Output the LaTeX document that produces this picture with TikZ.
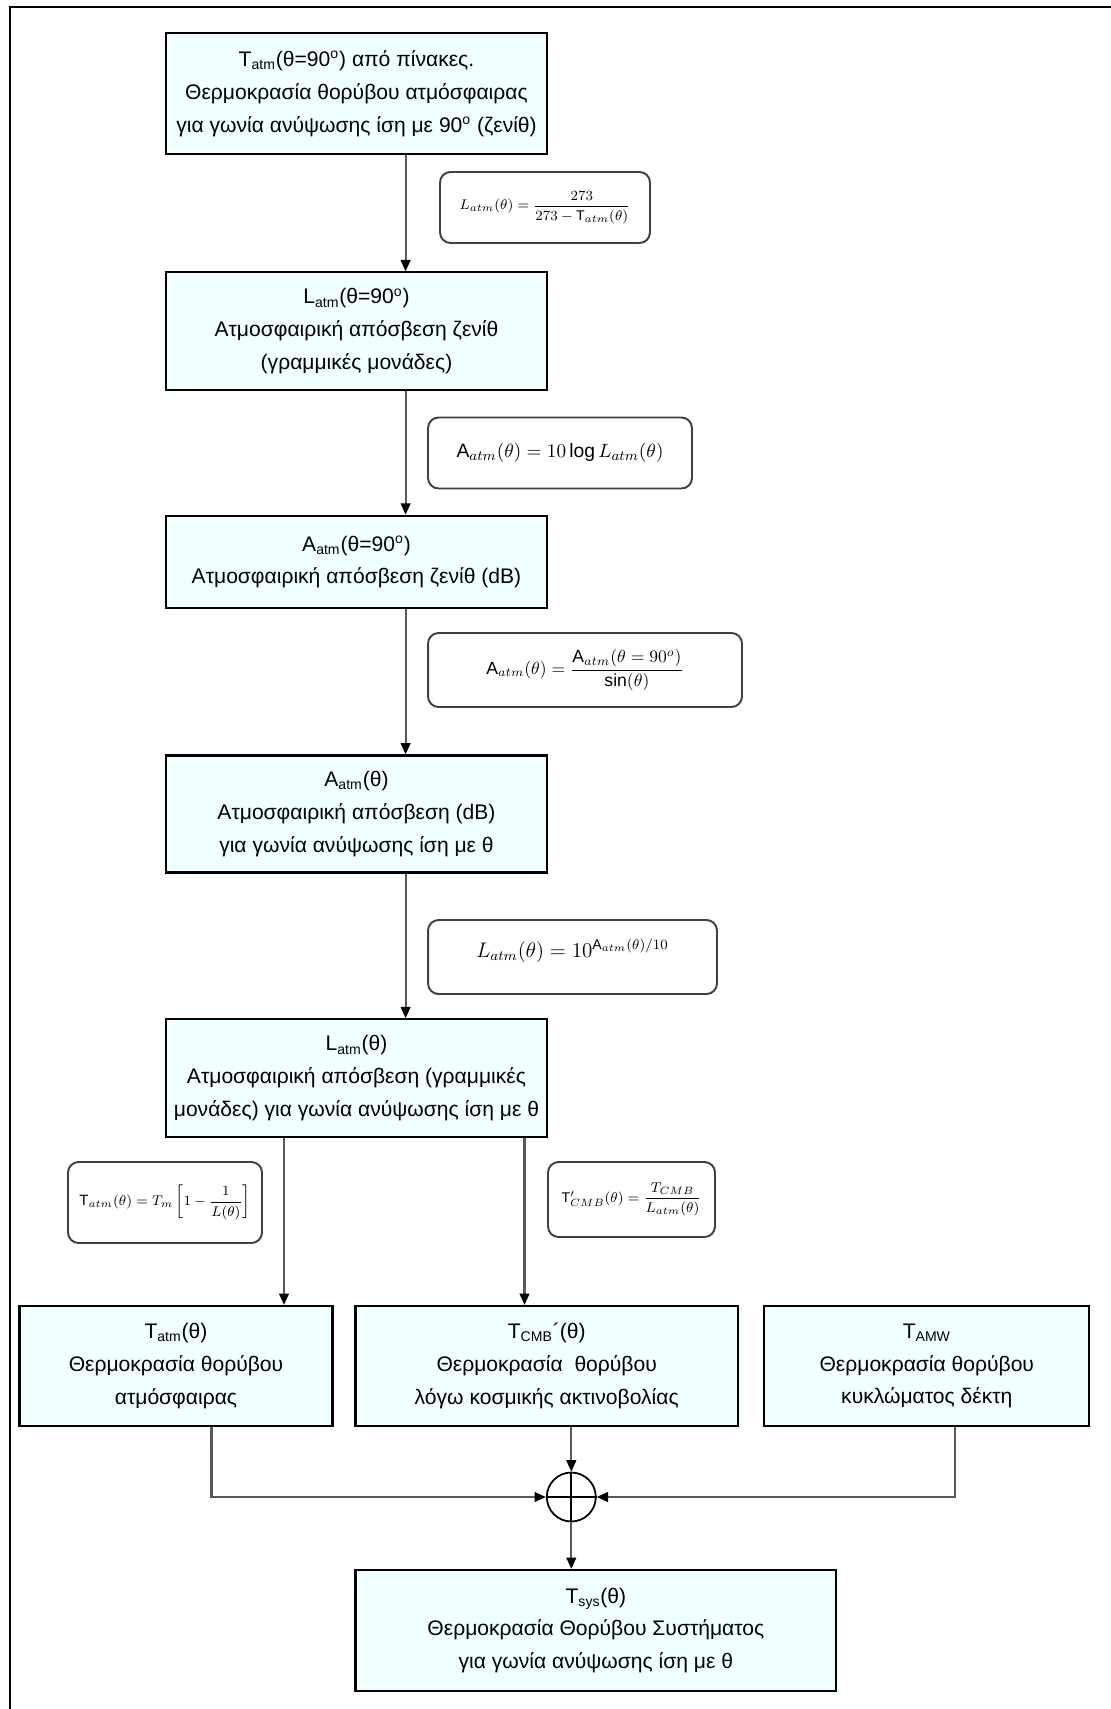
\documentclass[tikz,border=0pt]{standalone}
\usepackage{amsmath}
\usepackage{fontspec}
\setmainfont{Liberation Sans}
\usetikzlibrary{arrows.meta}

\definecolor{boxfill}{RGB}{240,255,255}
\tikzset{
  block/.style={draw=black, fill=boxfill, line width=1.2pt, align=center,
    inner sep=0pt, font=\fontsize{12}{18.7}\selectfont},
  formula/.style={draw=black!75, fill=white, rounded corners=6pt,
    line width=1.1pt, inner sep=0pt},
  flow/.style={draw=black!65, line width=1.2pt,
    -{Triangle[length=6.5pt,width=5.5pt,color=black]}},
}

\begin{document}
\begin{tikzpicture}[x=0.02cm, y=-0.02cm]
  \useasboundingbox[fill=white] (0,0) rectangle (1111,1709);
  \draw[line width=1.5pt] (10,1709) -- (10,7) -- (1111,7);

  % x positions of the connectors
  \coordinate (colx) at (405.6,0);
  \coordinate (leftx) at (284,0);
  \coordinate (midx) at (524.5,0);
  \coordinate (ax) at (211.5,0);
  \coordinate (cx) at (955,0);

  % main column
  \node[block, minimum width=7.63cm, minimum height=2.42cm] (tzen) at (356.5,93.5)
    {T\textsubscript{atm}(θ=90\textsuperscript{o}) από πίνακες.\\
     Θερμοκρασία θορύβου ατμόσφαιρας\\
     για γωνία ανύψωσης ίση με 90\textsuperscript{o} (ζενίθ)};
  \node[block, minimum width=7.63cm, minimum height=2.36cm] (lzen) at (356.5,331.4)
    {L\textsubscript{atm}(θ=90\textsuperscript{o})\\
     Ατμοσφαιρική απόσβεση ζενίθ\\
     (γραμμικές μονάδες)};
  \node[block, minimum width=7.63cm, minimum height=1.85cm] (azen) at (356.5,562)
    {A\textsubscript{atm}(θ=90\textsuperscript{o})\\
     Ατμοσφαιρική απόσβεση ζενίθ (dB)};
  \node[block, minimum width=7.63cm, minimum height=2.34cm] (aatm) at (356.5,814)
    {A\textsubscript{atm}(θ)\\
     Ατμοσφαιρική απόσβεση (dB)\\
     για γωνία ανύψωσης ίση με θ};
  \node[block, minimum width=7.63cm, minimum height=2.36cm] (latm) at (356.5,1078.3)
    {L\textsubscript{atm}(θ)\\
     Ατμοσφαιρική απόσβεση (γραμμικές\\
     μονάδες) για γωνία ανύψωσης ίση με θ};

  % formulas
  \node[formula, minimum width=4.2cm, minimum height=1.42cm] (f1) at (545,207.5)
    {\fontsize{8}{9}\selectfont$L_{atm}(\theta)=\dfrac{273}{273-\mathrm{T}_{atm}(\theta)}$};
  \node[formula, minimum width=5.28cm, minimum height=1.42cm] (f2) at (560,453)
    {\fontsize{11}{13}\selectfont$\mathrm{A}_{atm}(\theta)=10\log L_{atm}(\theta)$};
  \node[formula, minimum width=6.28cm, minimum height=1.48cm] (f3) at (585,670)
    {\fontsize{10}{12}\selectfont$\mathrm{A}_{atm}(\theta)=\dfrac{\mathrm{A}_{atm}(\theta=90^{o})}{\sin(\theta)}$};
  \node[formula, minimum width=5.78cm, minimum height=1.48cm, text depth=0.35cm] (f4) at (572.5,957)
    {\fontsize{12}{14}\selectfont$L_{atm}(\theta)=10^{\mathrm{A}_{atm}(\theta)/10}$};
  \node[formula, minimum width=3.88cm, minimum height=1.62cm] (f5) at (165,1202.5)
    {\fontsize{8.5}{10}\selectfont$\mathrm{T}_{atm}(\theta)=T_m\left[1-\dfrac{1}{L(\theta)}\right]$};
  \node[formula, minimum width=3.34cm, minimum height=1.5cm] (f6) at (631.5,1199.5)
    {\fontsize{8}{10}\selectfont$\mathrm{T}'_{CMB}(\theta)=\dfrac{T_{CMB}}{L_{atm}(\theta)}$};

  % bottom row
  \node[block, minimum width=6.26cm, minimum height=2.4cm] (tatm) at (176,1366)
    {T\textsubscript{atm}(θ)\\
     Θερμοκρασία θορύβου\\
     ατμόσφαιρας};
  \node[block, minimum width=7.65cm, minimum height=2.4cm] (tcmb) at (546.7,1366)
    {T\textsubscript{CMB}´(θ)\\
     Θερμοκρασία\ \ θορύβου\\
     λόγω κοσμικής ακτινοβολίας};
  \node[block, minimum width=6.5cm, minimum height=2.4cm] (tamw) at (926.8,1366)
    {T\textsubscript{AMW}\\
     Θερμοκρασία θορύβου\\
     κυκλώματος δέκτη};

  \node[draw=black, fill=white, circle, minimum size=0.98cm, inner sep=0pt,
    line width=1pt] (sum) at (571.3,1497) {};
  \draw[line width=1pt] (sum.north) -- (sum.south) (sum.west) -- (sum.east);

  \node[block, minimum width=9.62cm, minimum height=2.42cm] (tsys) at (595.9,1630.5)
    {T\textsubscript{sys}(θ)\\
     Θερμοκρασία Θορύβου Συστήματος\\
     για γωνία ανύψωσης ίση με θ};

  % connectors
  \draw[flow] (tzen.south -| colx) -- (lzen.north -| colx);
  \draw[flow] (lzen.south -| colx) -- (azen.north -| colx);
  \draw[flow] (azen.south -| colx) -- (aatm.north -| colx);
  \draw[flow] (aatm.south -| colx) -- (latm.north -| colx);
  \draw[flow] (latm.south -| leftx) -- (tatm.north -| leftx);
  \draw[flow] (latm.south -| midx) -- (tcmb.north -| midx);
  \draw[flow] (tatm.south -| ax) |- (sum.west);
  \draw[flow] (tamw.south -| cx) |- (sum.east);
  \draw[flow] (tcmb.south -| sum) -- (sum.north);
  \draw[flow] (sum.south) -- (tsys.north -| sum);
\end{tikzpicture}
\end{document}
